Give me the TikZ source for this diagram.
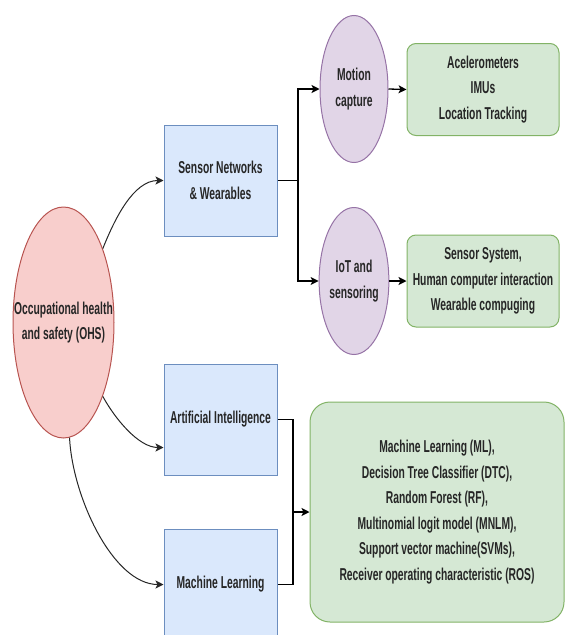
\documentclass[tikz,border=0pt]{standalone}
\usepackage{fontspec}
\setmainfont[FakeStretch=0.6,BoldFont={Liberation Sans Bold},BoldFeatures={FakeStretch=0.6}]{Liberation Sans}
\usetikzlibrary{arrows.meta,shapes.geometric,calc}

\definecolor{bluefill}{HTML}{DAE8FC}\definecolor{blueline}{HTML}{6C8EBF}
\definecolor{greenfill}{HTML}{D5E8D4}\definecolor{greenline}{HTML}{82B366}
\definecolor{purplefill}{HTML}{E1D5E7}\definecolor{purpleline}{HTML}{9673A6}
\definecolor{redfill}{HTML}{F8CECC}\definecolor{redline}{HTML}{B85450}

\begin{document}
\begin{tikzpicture}[x=1pt,y=-1pt,
    every node/.style={font=\fontsize{17.2}{25.5}\selectfont\bfseries, text=black!85, align=center, inner sep=0pt},
    topic/.style={draw=blueline, fill=bluefill, line width=1pt, minimum width=113pt, minimum height=111pt},
    method/.style={ellipse, draw=purpleline, fill=purplefill, line width=1pt, minimum width=68pt, minimum height=147pt},
    items/.style={draw=greenline, fill=greenfill, line width=1pt, rounded corners=9pt, minimum width=152pt, minimum height=92pt},
    conn/.style={line width=1.3pt, -{Stealth[length=8pt,width=8pt,inset=2pt]}},
    curve/.style={line width=1pt, black!85, -{Stealth[length=8pt,width=8pt,inset=2pt]}}]
				\useasboundingbox (0,0) rectangle (565,635);
				\clip (0,0) rectangle (565,635);
				% main topic
				\node[ellipse, draw=redline, fill=redfill, line width=1pt, minimum width=101pt, minimum height=231pt] (ohs) at (63.5,322.5) {};
				\node (ohstext) at (ohs) {Occupational health\\and safety (OHS)};
				% second level
				\node[topic] (sensor) at (220.5,180.5) {Sensor Networks\\\& Wearables};
				\node[topic] (ai) at (220.5,419.5) {Artificial Intelligence};
				\node[topic] (ml) at (220.5,584.5) {Machine Learning};
				% sensor branch
				\node[method] (motion) at (354,89) {Motion\\capture};
				\node[method] (iot) at (354,281) {IoT and\\sensoring};
				\node[items] (acc) at (483,89.5) {Acelerometers\\IMUs\\Location Tracking};
				\node[items] (sys) at (483,281) {Sensor System,\\Human computer interaction\\Wearable compuging};
				% ML branch
				\node[items, rounded corners=20pt, minimum width=254pt, minimum height=220pt] (models) at (437,512)
				{Machine Learning (ML),\\Decision Tree Classifier (DTC),\\Random Forest (RF),\\Multinomial logit model (MNLM),\\Support vector machine(SVMs),\\Receiver operating characteristic (ROS)};
				% curved arrows from OHS
				\draw[curve] (ohs.62) .. controls +(12,-30) and +(-30,0) .. (sensor.west);
				\draw[curve] (ohs.-62) .. controls +(12,22) and +(-25,0) .. ($(ai.south west)!0.25!(ai.north west)$);
				\draw[curve] (ohs.-87) .. controls +(3,60) and +(-50,0) .. (ml.west);
				% orthogonal connectors
				\coordinate (sj) at (298,180.5);
				\draw[line width=1.3pt] (sensor.east) -- (sj);
				\draw[conn] (sj) |- (motion.west);
				\draw[conn] (sj) |- (iot.west);
				\draw[conn] (motion.east) -- (acc.west);
				\draw[conn] (iot.east) -- (sys.west);
				\coordinate (mj) at (293,512);
				\draw[line width=1.3pt] (ai.east) -| (mj) |- (ml.east);
				\draw[conn] (mj) -- (models.west);
\end{tikzpicture}
\end{document}
